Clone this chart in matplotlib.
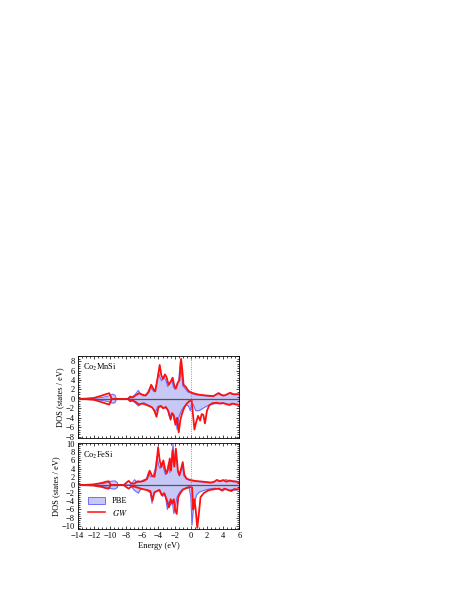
import matplotlib
matplotlib.use("Agg")
import matplotlib.pyplot as plt
from matplotlib.ticker import MultipleLocator
from matplotlib.patches import Patch
from matplotlib.lines import Line2D

plt.rcParams['font.family'] = ['Liberation Serif', 'DejaVu Serif']
plt.rcParams['mathtext.fontset'] = 'stix'

# ---- Co2MnSi ----
mn_gw_up_e = [-14, -13, -12, -11.2, -10.5, -10.1, -9.9, -9.8, -7.8, -7.5, -7.2, -6.8, -6.4, -6.0, -5.6, -5.2,
              -4.9, -4.6, -4.4, -4.1, -3.85, -3.65, -3.45, -3.2, -3.0, -2.75, -2.5, -2.25, -2.05, -1.85, -1.6,
              -1.4, -1.2, -1.05, -0.9, -0.6, -0.3, 0, 0.5, 1.0, 2.0, 2.8, 3.1, 3.4, 3.7, 4.0, 4.3, 4.6, 4.9,
              5.2, 5.6, 6.0]
mn_gw_up = [0, 0.05, 0.2, 0.6, 1.0, 1.2, 0.5, 0, 0, 0.5, 0.3, 0.8, 1.2, 0.9, 0.7, 1.5,
            3.0, 2.0, 1.6, 4.5, 7.2, 5.0, 4.2, 5.2, 4.6, 3.0, 3.6, 4.5, 2.8, 2.2, 3.5,
            4.0, 8.5, 6.0, 3.0, 2.5, 1.7, 1.4, 1.1, 0.9, 0.7, 0.6, 0.9, 1.2, 0.9, 0.7, 0.8, 1.1, 1.3,
            1.0, 1.0, 1.0]
mn_pbe_up_e = [-14, -13, -12, -11, -10.2, -9.7, -9.4, -9.2, -7.6, -7.3, -6.9, -6.5, -6.2, -5.8, -5.4, -5.0,
               -4.7, -4.5, -4.2, -4.0, -3.8, -3.6, -3.35, -3.1, -2.85, -2.6, -2.35, -2.15, -1.95, -1.7, -1.5,
               -1.3, -1.15, -1.0, -0.7, -0.4, 0, 0.5, 1.0, 2.0, 2.8, 3.1, 3.5, 3.8, 4.2, 4.5, 4.8, 5.1, 5.5, 6.0]
mn_pbe_up = [0, 0.02, 0.1, 0.3, 0.6, 1.0, 0.8, 0, 0, 0.3, 0.9, 1.8, 1.0, 0.6, 1.2, 2.6,
             1.8, 1.5, 3.5, 5.5, 4.5, 3.8, 4.8, 4.0, 2.6, 3.3, 4.2, 2.5, 2.0, 3.2, 3.8,
             8.0, 5.5, 2.8, 2.2, 1.5, 1.2, 0.9, 0.8, 0.6, 0.5, 0.8, 1.3, 0.9, 0.7, 0.9, 1.2, 1.0, 0.9, 0.9]
mn_gw_dn_e = [-14, -13, -12, -11.2, -10.5, -10.1, -9.9, -9.8, -7.8, -7.5, -7.2, -6.8, -6.4, -6.0, -5.6, -5.2,
              -4.8, -4.5, -4.25, -4.0, -3.7, -3.4, -3.1, -2.8, -2.5, -2.3, -2.1, -1.9, -1.7, -1.5, -1.3,
              -1.1, -0.8, -0.5, -0.2, 0.1, 0.25, 0.45, 0.65, 0.9, 1.15, 1.35, 1.55, 1.75, 2.0, 2.3, 2.7,
              3.2, 3.6, 4.0, 4.4, 4.8, 5.2, 5.6, 6.0]
mn_gw_dn = [0, -0.05, -0.2, -0.6, -1.0, -1.2, -0.5, 0, 0, -0.5, -0.3, -0.7, -1.2, -1.0, -1.2, -1.5,
            -1.8, -2.5, -3.8, -1.8, -1.5, -2.0, -1.7, -2.5, -4.4, -3.0, -3.5, -5.5, -4.0, -7.1, -4.5,
            -3.2, -1.8, -1.0, -0.5, -0.3, -3.0, -6.5, -5.0, -3.6, -4.6, -3.2, -3.4, -5.2, -2.5, -1.3, -0.9,
            -0.8, -1.0, -0.9, -1.1, -1.3, -1.0, -1.2, -1.3]
mn_pbe_dn_e = [-14, -13, -12, -11, -10.2, -9.7, -9.4, -9.2, -7.6, -7.3, -6.9, -6.5, -6.2, -5.8, -5.4, -5.0,
               -4.7, -4.4, -4.1, -3.8, -3.5, -3.2, -2.9, -2.6, -2.4, -2.2, -2.0, -1.85, -1.7, -1.5, -1.3,
               -1.0, -0.6, -0.3, -0.05, 0.1, 0.3, 0.6, 1.0, 1.5, 2.0, 2.5, 3.0, 3.5, 3.9, 4.3, 4.7, 5.1,
               5.5, 6.0]
mn_pbe_dn = [0, -0.02, -0.1, -0.3, -0.6, -0.9, -0.8, 0, 0, -0.3, -0.8, -1.5, -1.0, -0.8, -1.2, -1.5,
             -2.0, -3.0, -1.6, -1.4, -2.0, -1.8, -2.2, -4.0, -3.0, -3.4, -5.0, -4.2, -6.5, -4.0, -3.0,
             -2.0, -1.2, -1.5, -2.5, -1.0, -1.2, -2.5, -2.5, -2.0, -1.5, -1.2, -1.0, -1.0, -0.8, -1.0,
             -1.2, -0.9, -1.1, -1.2]

# ---- Co2FeSi ----
fe_gw_up_e = [-14, -13, -12, -11, -10.5, -10.15, -10.0, -9.9, -8.3, -8.0, -7.7, -7.4, -7.0, -6.6, -6.2, -5.8,
              -5.4, -5.1, -4.8, -4.5, -4.25, -4.05, -3.85, -3.65, -3.4, -3.2, -3.0, -2.8, -2.6, -2.45, -2.25,
              -2.05, -1.85, -1.6, -1.4, -1.2, -1.0, -0.8, -0.5, 0, 0.5, 1.5, 2.5, 2.9, 3.2, 3.6, 4.0, 4.4,
              4.8, 5.2, 5.6, 6.0]
fe_gw_up = [0, 0.02, 0.15, 0.5, 0.8, 0.9, 0.3, 0, 0, 0.5, 1.0, 0.4, 0.3, 0.9, 0.8, 1.0,
            1.5, 3.5, 2.2, 2.0, 5.0, 9.2, 6.0, 4.4, 6.0, 4.0, 2.8, 4.0, 6.5, 3.5, 8.5,
            4.5, 8.9, 3.5, 2.4, 4.0, 5.6, 2.5, 1.5, 1.2, 1.0, 0.8, 0.6, 0.8, 1.2, 0.9, 1.2, 0.8,
            1.1, 0.9, 0.8, 0.7]
fe_pbe_up_e = [-14, -13, -12, -11, -10.2, -9.9, -9.4, -9.1, -9.0, -7.5, -7.2, -6.95, -6.7, -6.3, -5.9, -5.5,
               -5.25, -5.0, -4.7, -4.4, -4.2, -4.0, -3.8, -3.55, -3.35, -3.15, -2.95, -2.75, -2.6, -2.4, -2.2,
               -2.0, -1.8, -1.6, -1.4, -1.2, -1.05, -0.85, -0.5, 0, 0.5, 1.5, 2.5, 2.9, 3.3, 3.6, 4.0,
               4.4, 4.8, 5.2, 5.6, 6.0]
fe_pbe_up = [0, 0.02, 0.1, 0.3, 0.6, 0.9, 1.0, 0.6, 0, 0, 0.6, 1.3, 0.6, 0.7, 1.2, 1.5,
             3.0, 2.0, 2.0, 4.0, 7.0, 5.0, 4.0, 5.5, 4.0, 2.5, 3.5, 5.5, 3.0, 6.0, 10.0,
             5.0, 7.5, 3.0, 2.2, 3.5, 4.8, 2.2, 1.4, 1.0, 0.9, 0.7, 0.5, 0.7, 1.3, 0.8, 1.1,
             1.3, 0.9, 1.0, 0.9, 0.8]
fe_gw_dn_e = [-14, -13, -12, -11, -10.5, -10.15, -10.0, -9.9, -8.3, -8.0, -7.7, -7.4, -7.0, -6.5, -6.0, -5.5,
              -5.0, -4.75, -4.5, -4.2, -3.9, -3.6, -3.3, -3.0, -2.7, -2.5, -2.3, -2.1, -1.95, -1.75, -1.55,
              -1.3, -1.0, -0.6, -0.2, 0.15, 0.3, 0.45, 0.6, 0.8, 1.0, 1.2, 1.6, 2.2, 3.0, 3.5, 3.8, 4.2,
              4.6, 5.0, 5.4, 5.8, 6.0]
fe_gw_dn = [0, -0.02, -0.15, -0.5, -0.8, -0.9, -0.3, 0, 0, -0.5, -0.9, -0.4, -0.4, -0.7, -1.0, -1.2,
            -1.5, -3.8, -1.8, -1.5, -1.2, -2.5, -2.0, -3.5, -5.5, -3.5, -4.5, -3.5, -6.0, -7.1, -3.0,
            -2.0, -1.2, -0.8, -0.5, -0.6, -6.0, -3.5, -6.0, -10.5, -7.0, -3.0, -2.0, -1.3, -1.0, -0.9, -1.3, -0.9,
            -1.2, -1.5, -1.0, -1.1, -1.0]
fe_pbe_dn_e = [-14, -13, -12, -11, -10.2, -9.9, -9.4, -9.1, -9.0, -7.5, -7.0, -6.5, -6.2, -5.5, -5.0, -4.8,
               -4.6, -4.2, -3.8, -3.5, -3.2, -2.9, -2.7, -2.5, -2.3, -2.1, -1.9, -1.7, -1.4, -1.0, -0.5,
               -0.2, 0.0, 0.15, 0.3, 0.5, 0.7, 1.0, 1.5, 2.2, 3.0, 3.5, 3.9, 4.3, 4.7, 5.1, 5.5, 6.0]
fe_pbe_dn = [0, -0.02, -0.1, -0.3, -0.6, -0.9, -1.0, -0.6, 0, 0, -1.3, -2.0, -1.0, -1.2, -2.0, -4.5,
             -2.0, -1.5, -1.3, -2.8, -2.2, -6.0, -4.0, -5.0, -4.0, -7.0, -5.0, -3.0, -1.8, -1.0, -0.7,
             -0.8, -3.0, -9.8, -6.0, -4.0, -2.5, -1.8, -1.4, -1.0, -0.8, -1.0, -1.5, -1.0, -1.4, -1.1, -1.3, -1.0]

panels = [
    ('Co$_2$MnSi', (mn_pbe_up_e, mn_pbe_up), (mn_pbe_dn_e, mn_pbe_dn),
     (mn_gw_up_e, mn_gw_up), (mn_gw_dn_e, mn_gw_dn), (-8.3, 9.1), [-8, -6, -4, -2, 0, 2, 4, 6, 8]),
    ('Co$_2$FeSi', (fe_pbe_up_e, fe_pbe_up), (fe_pbe_dn_e, fe_pbe_dn),
     (fe_gw_up_e, fe_gw_up), (fe_gw_dn_e, fe_gw_dn), (-10.9, 10.2), [-10, -8, -6, -4, -2, 0, 2, 4, 6, 8, 10]),
]

fill_c = '#c8c8f6'
blue_c = '#6e6eff'
red_c = '#ff1010'

fig = plt.figure(figsize=(4.69, 6.07), dpi=100)
rects = [[0.1657, 0.2784, 0.3445, 0.1351], [0.1657, 0.1277, 0.3445, 0.1420]]

for rect, (name, pu, pd, gu, gd, ylim, yt) in zip(rects, panels):
    ax = fig.add_axes(rect)
    for e, v in (pu, pd):
        ax.fill_between(e, v, 0, color=fill_c, lw=0)
        ax.plot(e, v, color=blue_c, lw=0.8)
    for e, v in (gu, gd):
        ax.plot(e, v, color=red_c, lw=1.3)
    ax.axhline(0, color='#555555', lw=0.9, zorder=5)
    ax.axvline(0, color='#777777', lw=0.6, ls=':', zorder=5)
    ax.set_xlim(-14, 6)
    ax.set_ylim(*ylim)
    ax.set_yticks(yt)
    ax.xaxis.set_major_locator(MultipleLocator(2))
    ax.xaxis.set_minor_locator(MultipleLocator(0.5))
    ax.yaxis.set_minor_locator(MultipleLocator(0.5))
    ax.tick_params(which='both', direction='in', top=True, right=True, labelsize=6, width=0.5, pad=2)
    ax.tick_params(which='major', length=2.5)
    ax.tick_params(which='minor', length=1.3)
    for s in ax.spines.values():
        s.set_linewidth(0.6)
    ax.set_ylabel('DOS (states / eV)', fontsize=6, labelpad=1)
    ax.text(0.03, 0.93, name, transform=ax.transAxes, fontsize=6, va='top', ha='left')
    if name.startswith('Co$_2$Mn'):
        ax.set_xticklabels([])
    else:
        ax.set_xlabel('Energy (eV)', fontsize=6, labelpad=1)
        handles = [Patch(facecolor=fill_c, edgecolor=blue_c, lw=0.7),
                   Line2D([], [], color=red_c, lw=1.1)]
        ax.legend(handles, ['PBE', '$GW$'], loc='lower left', bbox_to_anchor=(0.03, 0.07),
                  frameon=False, fontsize=6, handlelength=2.0, handleheight=0.9,
                  labelspacing=0.3, borderpad=0.2, handletextpad=0.8)

fig.savefig('out.png', dpi=100)
